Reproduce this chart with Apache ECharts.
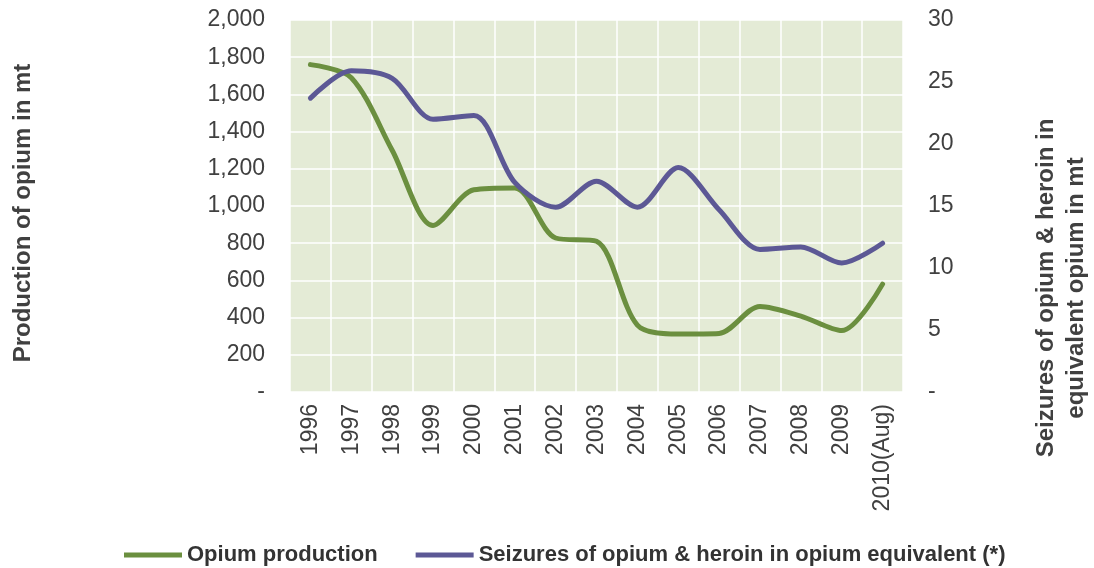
<!DOCTYPE html>
<html>
<head>
<meta charset="utf-8">
<title>Opium production and seizures</title>
<script src="https://cdn.jsdelivr.net/npm/echarts@6/dist/echarts.min.js"></script>
<style>
  html, body { margin: 0; padding: 0; background: #ffffff; }
  #chart { width: 1094px; height: 568px; }
</style>
</head>
<body>
<div id="chart"></div>
<script>
// Years on the horizontal axis
const years = ['1996', '1997', '1998', '1999', '2000', '2001', '2002', '2003',
               '2004', '2005', '2006', '2007', '2008', '2009', '2010(Aug)'];

// Opium production, metric tons (left axis)
const production = [1760, 1690, 1300, 895, 1087, 1097, 828, 810,
                    360, 312, 315, 460, 408, 330, 580];

// Seizures of opium & heroin in opium equivalent, metric tons (right axis)
const seizures = [23.7, 25.9, 25.3, 22.0, 22.3, 16.9, 14.9, 17.0,
                  14.9, 18.1, 14.7, 11.5, 11.7, 10.4, 12.0];

const seriesNames = ['Opium production',
                     'Seizures of opium & heroin in opium equivalent (*)'];
const leftTitle = 'Production of opium in mt';
const rightTitle = 'Seizures of opium & heroin in\nequivalent opium in mt';

const FONT = 'Arial, "Liberation Sans", sans-serif';
const GREEN = '#6b8f3f';
const PURPLE = '#5c5895';
const LABEL = '#404040';

const chart = echarts.init(document.getElementById('chart'));

function dashZero(fmt) {
  return function (v) { return v === 0 ? '-' : fmt(v); };
}

chart.setOption({
  animation: false,
  textStyle: { fontFamily: FONT },
  grid: {
    left: 290, right: 191, top: 20, bottom: 176,
    show: true, backgroundColor: '#e4ebd6', borderWidth: 0
  },
  legend: {
    left: 119, top: 539,
    itemWidth: 58, itemHeight: 5, itemGap: 38,
    icon: 'rect',
    textStyle: { fontFamily: FONT, fontSize: 22, fontWeight: 'bold', color: '#333333' },
    data: seriesNames
  },
  xAxis: {
    type: 'category',
    data: years,
    boundaryGap: true,
    axisLine: { show: false },
    axisTick: { show: false },
    axisLabel: {
      rotate: 90, interval: 0, margin: 12,
      fontSize: 23, color: LABEL, fontFamily: FONT
    },
    splitLine: { show: true, lineStyle: { color: '#ffffff', width: 1.5 } }
  },
  yAxis: [
    {
      type: 'value', min: 0, max: 2000, interval: 200,
      position: 'left',
      axisLine: { show: false },
      axisTick: { show: false },
      axisLabel: {
        margin: 25, fontSize: 23, color: LABEL, fontFamily: FONT,
        formatter: dashZero(function (v) { return v.toLocaleString('en-US'); })
      },
      splitLine: { show: true, lineStyle: { color: '#ffffff', width: 1.5 } }
    },
    {
      type: 'value', min: 0, max: 30, interval: 5,
      position: 'right',
      axisLine: { show: false },
      axisTick: { show: false },
      axisLabel: {
        margin: 25, fontSize: 23, color: LABEL, fontFamily: FONT,
        formatter: dashZero(function (v) { return String(v); })
      },
      splitLine: { show: false }
    }
  ],
  // Axis titles
  graphic: [
    {
      type: 'text',
      x: 23, y: 213,
      rotation: Math.PI / 2,
      style: {
        text: leftTitle,
        fontFamily: FONT, fontSize: 24, fontWeight: 'bold',
        fill: LABEL, align: 'center', verticalAlign: 'middle'
      }
    },
    {
      type: 'text',
      x: 1061, y: 288,
      rotation: Math.PI / 2,
      style: {
        text: rightTitle,
        fontFamily: FONT, fontSize: 24, fontWeight: 'bold',
        fill: LABEL, align: 'center', verticalAlign: 'middle', lineHeight: 30
      }
    }
  ],
  series: [
    {
      name: seriesNames[0],
      type: 'line',
      yAxisIndex: 0,
      data: production,
      smooth: 0.3,
      symbol: 'none',
      lineStyle: { color: GREEN, width: 5, cap: 'round' },
      itemStyle: { color: GREEN }
    },
    {
      name: seriesNames[1],
      type: 'line',
      yAxisIndex: 1,
      data: seizures,
      smooth: 0.3,
      symbol: 'none',
      lineStyle: { color: PURPLE, width: 5, cap: 'round' },
      itemStyle: { color: PURPLE }
    }
  ]
});
</script>
</body>
</html>
